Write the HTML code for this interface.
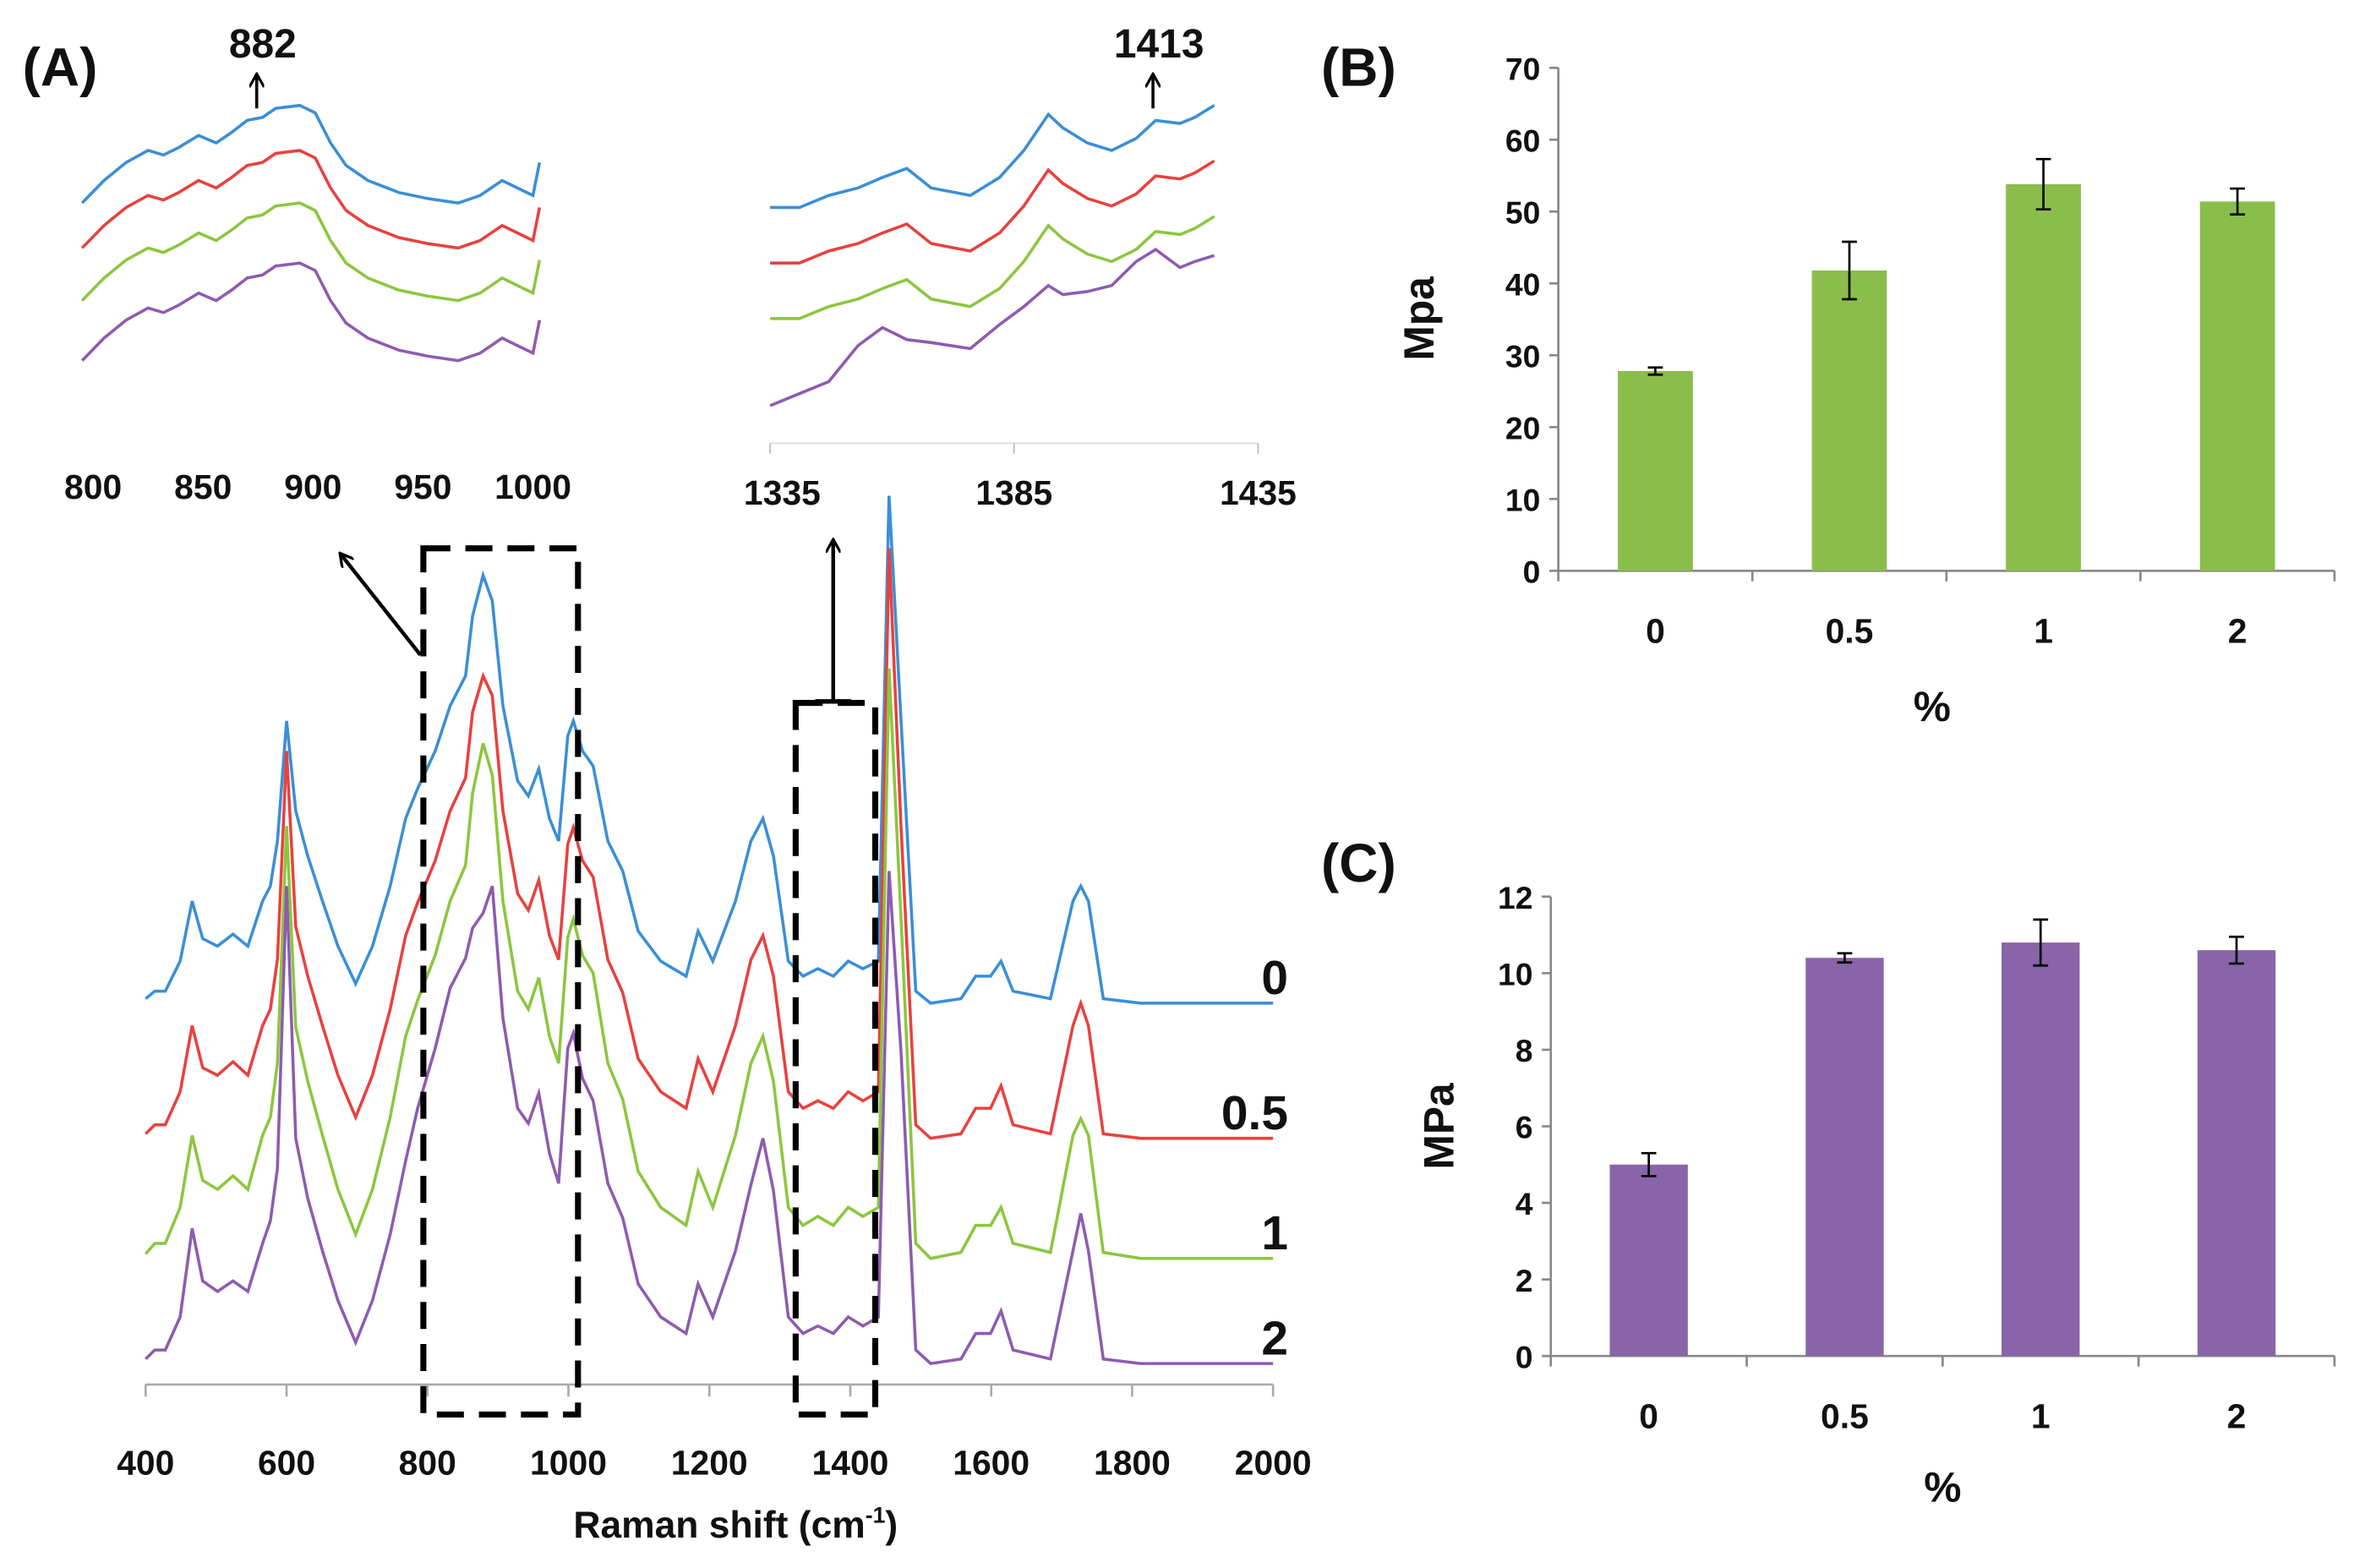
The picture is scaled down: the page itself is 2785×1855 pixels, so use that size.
<!DOCTYPE html>
<html><head><meta charset="utf-8"><style>
html,body{margin:0;padding:0;background:#fff}
svg{display:block}
text{font-family:"Liberation Sans",sans-serif;font-weight:bold;fill:#111}
</style></head><body>
<svg id="fig" width="2785" height="1855" viewBox="0 0 1568 1044" xmlns="http://www.w3.org/2000/svg">
<defs><marker id="ah" markerWidth="10" markerHeight="10" refX="8" refY="5" orient="auto" markerUnits="userSpaceOnUse"><path d="M0,0 L9,5 L0,10" fill="none" stroke="#000" stroke-width="1.8"/></marker></defs>
<g id="gA"></g>
<g id="gB"></g>
<g id="gC"></g>
</svg>
<script>
// ---- Panel A main spectrum data ----
const shifts=[400,413,428,449,466,481,502,524,545,566,577,587,600,613,630,651,673,698,722,747,769,786,811,832,854,864,879,892,907,928,943,958,973,986,999,1007,1020,1035,1056,1077,1099,1131,1167,1184,1205,1237,1259,1276,1291,1312,1333,1354,1376,1397,1418,1440,1455,1472,1493,1514,1557,1578,1599,1614,1631,1684,1716,1727,1738,1759,1812,2000];
const seriesNames=["0","0.5","1","2"];
const seriesColors=["#3a8fd6","#e8413f","#8cc63f","#8e5bb0"];
const seriesBaselines=[668,758,838,908];
const int0=[3,8,8,28,68,43,38,46,38,68,78,108,188,128,98,68,38,13,38,78,123,143,168,198,218,258,285,268,198,148,138,156,123,108,178,188,168,158,108,88,48,28,18,48,28,68,108,123,98,28,18,23,18,28,23,28,338,188,8,0,3,18,18,28,8,3,68,78,68,3,0,0];
const int05=[3,9,9,31,75,47,42,51,42,75,86,119,258,141,108,75,42,14,42,86,135,157,185,218,240,284,308,295,218,163,152,172,135,119,196,207,185,174,119,97,53,31,20,53,31,75,119,135,108,31,20,25,20,31,25,31,393,207,9,0,3,20,20,35,9,3,75,90,75,3,0,0];
const int1=[3,10,10,34,82,52,46,55,46,82,94,130,288,154,118,82,46,16,46,94,148,172,202,238,262,310,343,322,238,178,166,187,148,130,214,226,202,190,130,106,58,34,22,58,34,82,130,148,118,34,22,28,22,34,28,34,393,226,10,0,4,22,22,34,10,4,82,93,82,4,0,0];
const int2=[3,9,9,31,90,55,48,55,48,80,95,130,318,150,110,75,42,14,42,86,135,170,210,250,270,290,300,318,230,170,160,180,140,120,210,220,190,175,120,97,53,31,20,53,31,75,119,150,115,31,20,25,20,31,25,31,328,207,9,0,3,20,20,35,9,3,75,100,75,3,0,0];
const mainTicks=[400,600,800,1000,1200,1400,1600,1800,2000];
// left inset
const insL_shift=[795,805,815,825,832,839,848,856,863,870,877,883,894,901,908,915,925,939,952,966,976,986,993,1000,1003];
const insL_int=[0,15,27,35,32,37,45,40,47,55,57,63,65,60,40,25,15,7,3,0,5,15,10,5,27];
const insL_off=[135,165,200,240];
const insTicksL=[800,850,900,950,1000];
// right inset
const insR_shift=[1335,1341,1347,1353,1358,1363,1368,1376,1382,1387,1392,1395,1400,1405,1410,1414,1419,1422,1426];
const insR_blue=[0,0,8,13,20,26,13,8,20,38,62,53,43,38,46,58,56,60,68];
const insR_offs=[138,175,212];
const insR_purple=[0,4,8,20,26,22,21,19,27,33,40,37,38,40,48,52,46,48,50];
const insR_purpleBase=270;
const insTicksR=[1335,1385,1435];
// Panel B
const catB=["0","0.5","1","2"];
const valB=[27.8,41.8,53.8,51.4];
const errB=[0.5,4.0,3.5,1.8];
const ticksB=[0,10,20,30,40,50,60,70];
// Panel C
const catC=["0","0.5","1","2"];
const valC=[5.0,10.4,10.8,10.6];
const errC=[0.3,0.12,0.6,0.35];
const ticksC=[0,2,4,6,8,10,12];

const NS="http://www.w3.org/2000/svg";
function mk(parent,tag,attrs){const e=document.createElementNS(NS,tag);for(const k in attrs)e.setAttribute(k,attrs[k]);parent.appendChild(e);return e;}
function txt(parent,x,y,s,size,anchor){const t=mk(parent,'text',{x:x,y:y,'font-size':size,'text-anchor':anchor||'middle'});t.textContent=s;return t;}

const gA=document.getElementById('gA');
const xM=v=>97+(v-400)*751/1600;
let ax=mk(gA,'line',{x1:97,y1:922,x2:848,y2:922,stroke:'#aaa','stroke-width':1.5});


mainTicks.forEach(t=>{
  let l=mk(gA,'line',{x1:xM(t),y1:922,x2:xM(t),y2:930,stroke:'#aaa','stroke-width':1.5});
  
  
  let lb=txt(gA,xM(t),982,String(t),23);
  
  
});
let xt=txt(gA,490,1024,'Raman shift (cm',25);


const sup=mk(xt,'tspan',{'font-size':15,dy:-10});sup.textContent='-1';
const cl=mk(xt,'tspan',{dy:10});cl.textContent=')';
const ints=[int0,int05,int1,int2];
ints.forEach((arr,i)=>{
  const n=Math.min(arr.length,shifts.length);
  let d='';for(let k=0;k<n;k++){d+=(k?'L':'M')+xM(shifts[k]).toFixed(1)+','+(seriesBaselines[i]-arr[k]).toFixed(1);}
  let p=mk(gA,'path',{d:d,fill:'none',stroke:seriesColors[i],'stroke-width':2});
  
  
  let lb=txt(gA,858,seriesBaselines[i]-6,seriesNames[i],32,'end');
  
  
});
let b1=mk(gA,'rect',{x:282,y:365,width:103,height:577,fill:'none',stroke:'#000','stroke-width':4,'stroke-dasharray':'18 10'});


let b2=mk(gA,'rect',{x:530,y:468,width:53,height:474,fill:'none',stroke:'#000','stroke-width':4,'stroke-dasharray':'18 10'});


let a1=mk(gA,'line',{x1:280,y1:436,x2:227,y2:369,stroke:'#000','stroke-width':2.5,'marker-end':'url(#ah)'});


let a2=mk(gA,'line',{x1:555,y1:467,x2:555,y2:360,stroke:'#000','stroke-width':2.5,'marker-end':'url(#ah)'});


mk(gA,'line',{x1:543,y1:467,x2:567,y2:467,stroke:'#000','stroke-width':3});
const xL=v=>62+(v-800)*293/200;
insL_off.forEach((off,i)=>{
  let d='';insL_shift.forEach((s,k)=>{d+=(k?'L':'M')+xL(s).toFixed(1)+','+(off-insL_int[k]).toFixed(1);});
  let p=mk(gA,'path',{d:d,fill:'none',stroke:seriesColors[i],'stroke-width':2});
  
  
});
insTicksL.forEach(t=>{let lb=txt(gA,xL(t),332,String(t),23);
  
  });
const xR=v=>513+(v-1335)*325/100;
mk(gA,'line',{x1:513,y1:295,x2:838,y2:295,stroke:'#ddd','stroke-width':1});
insTicksR.forEach(t=>{mk(gA,'line',{x1:xR(t),y1:295,x2:xR(t),y2:302,stroke:'#bbb','stroke-width':1});
  let lb=txt(gA,xR(t)-(t===1335?-8:0),336,String(t),23);
  
  });
insR_offs.forEach((off,i)=>{
  let d='';insR_shift.forEach((s,k)=>{d+=(k?'L':'M')+xR(s).toFixed(1)+','+(off-insR_blue[k]).toFixed(1);});
  let p=mk(gA,'path',{d:d,fill:'none',stroke:seriesColors[i],'stroke-width':2});
  
  
});
{let d='';insR_shift.forEach((s,k)=>{d+=(k?'L':'M')+xR(s).toFixed(1)+','+(insR_purpleBase-insR_purple[k]*2).toFixed(1);});
 let p=mk(gA,'path',{d:d,fill:'none',stroke:seriesColors[3],'stroke-width':2});
 
 }
[[173,'882'],[770,'1413']].forEach(([x,s])=>{
  let lb=txt(gA,x+2,38,s,27);
  
  
  mk(gA,'line',{x1:x-2,y1:72,x2:x-2,y2:50,stroke:'#000','stroke-width':2,'marker-end':'url(#ah)'});
});
let pa=txt(gA,15,57,'(A)',36,'start');



function bars(g,cfg){
  const y=v=>cfg.y0-(v-cfg.ticks[0])*(cfg.y0-cfg.yTop)/(cfg.ticks[cfg.ticks.length-1]-cfg.ticks[0]);
  let ya=mk(g,'line',{x1:cfg.x0,y1:cfg.yTop,x2:cfg.x0,y2:cfg.y0,stroke:'#888','stroke-width':1.5});
  
  
  let xa=mk(g,'line',{x1:cfg.x0,y1:cfg.y0,x2:cfg.x1,y2:cfg.y0,stroke:'#888','stroke-width':1.5});
  
  
  cfg.ticks.forEach(t=>{
    mk(g,'line',{x1:cfg.x0-6,y1:y(t),x2:cfg.x0,y2:y(t),stroke:'#888','stroke-width':1.5});
    let lb=txt(g,cfg.x0-12,y(t)+8,String(t),21,'end');
    
    
  });
  const n=cfg.cats.length,step=(cfg.x1-cfg.x0)/n;
  for(let i=0;i<=n;i++)mk(g,'line',{x1:cfg.x0+i*step,y1:cfg.y0,x2:cfg.x0+i*step,y2:cfg.y0+7,stroke:'#888','stroke-width':1.5});
  cfg.cats.forEach((c,i)=>{
    const cx=cfg.x0+step*(i+0.5);
    let r=mk(g,'rect',{x:cx-cfg.bw/2,y:y(cfg.vals[i]),width:cfg.bw,height:cfg.y0-y(cfg.vals[i]),fill:cfg.color});
    
    
    const e1=y(cfg.vals[i]+cfg.errs[i]),e2=y(cfg.vals[i]-cfg.errs[i]);
    let eb=mk(g,'path',{d:`M${cx},${e1}V${e2}M${cx-5},${e1}H${cx+5}M${cx-5},${e2}H${cx+5}`,stroke:'#000','stroke-width':1.5,fill:'none'});
    
    
    let lb=txt(g,cx,cfg.y0+48,c,23);
    
    
  });
  let yt=txt(g,0,0,cfg.ytitle,28);
  yt.setAttribute('transform',`translate(${cfg.ytx},${cfg.yty}) rotate(-90)`);
  
  
  let xt=txt(g,cfg.xtx,cfg.xty,'%',28);
  
  
  let pl=txt(g,cfg.plx,cfg.ply,cfg.label,36,'start');
  
  
}
bars(document.getElementById('gB'),{x0:1038,x1:1555,y0:380,yTop:45,ticks:ticksB,cats:catB,vals:valB,errs:errB,bw:50,color:'#8bbd4c',ytitle:'Mpa',ytx:955,yty:212,xtx:1287,xty:480,label:'(B)',plx:880,ply:57});
bars(document.getElementById('gC'),{x0:1033,x1:1555,y0:903,yTop:597,ticks:ticksC,cats:catC,vals:valC,errs:errC,bw:52,color:'#8964a8',ytitle:'MPa',ytx:968,yty:750,xtx:1294,xty:1000,label:'(C)',plx:880,ply:587});
</script>
</body></html>
